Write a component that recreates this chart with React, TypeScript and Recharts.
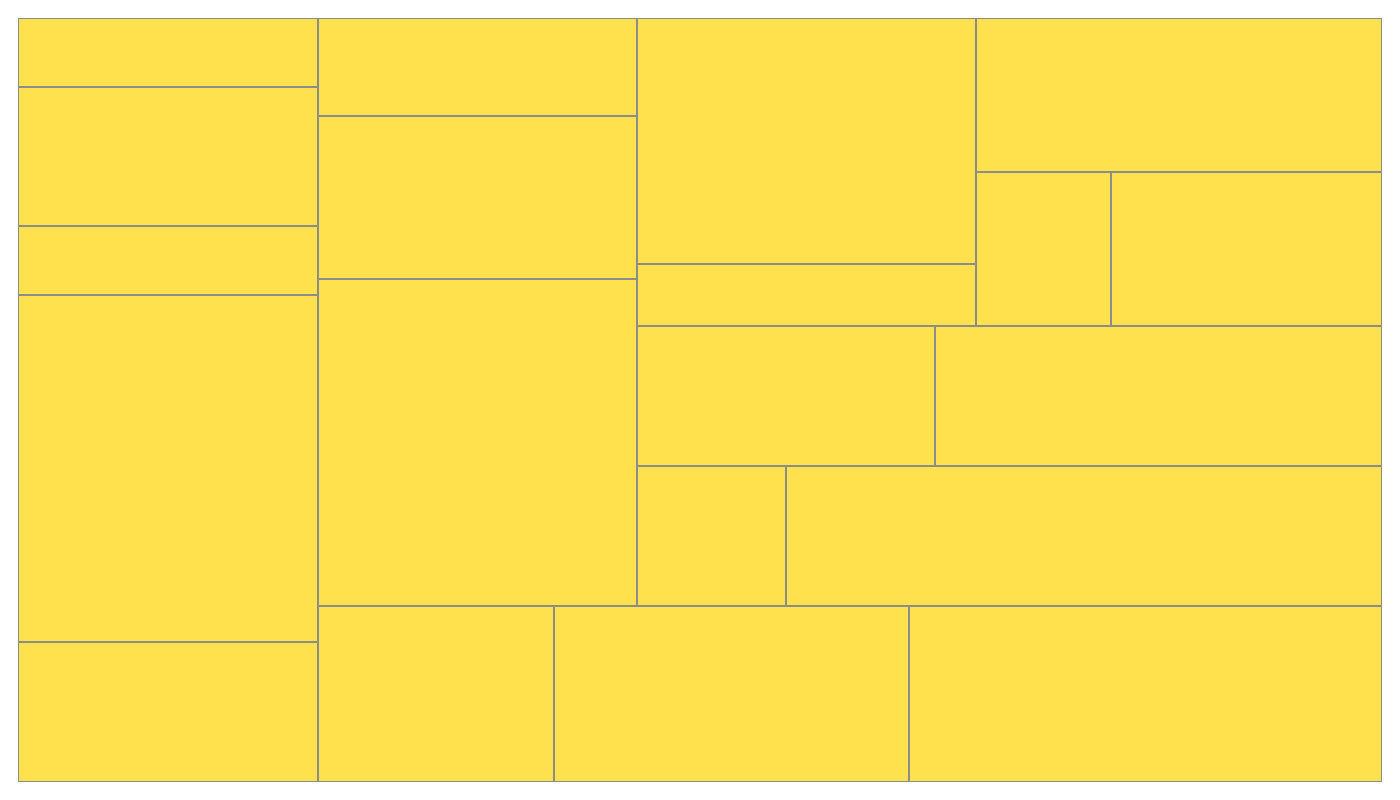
import React from "react";
import { Treemap } from "recharts";

// block values, read from the areas (whole chart = 100)
const leftColumn = [2, 4, 2, 10, 4];
const middleColumn = [3, 5, 10];
const upperPair = [8, 2];
const upperRightTop = 6;
const upperRightPair = [2, 4];
const middleRow = [4, 6];
const lowerRow = [2, 8];
const bottomRow = [4, 6, 8];

const leaves = (prefix: string, values: number[]) =>
  values.map((value, i) => ({ name: `${prefix}${i + 1}`, value }));

const data = [
  ...leaves("A", leftColumn),
  {
    name: "B",
    children: [
      ...leaves("B", middleColumn),
      {
        name: "C",
        children: [
          {
            name: "C-top",
            children: [
              ...leaves("C", upperPair),
              {
                name: "D",
                children: [
                  { name: "D1", value: upperRightTop },
                  { name: "E", children: leaves("E", upperRightPair) },
                ],
              },
            ],
          },
          { name: "F", children: leaves("F", middleRow) },
        ],
      },
      { name: "G", children: leaves("G", lowerRow) },
    ],
  },
  { name: "H", children: leaves("H", bottomRow) },
];

function Block(props: any) {
  const { x, y, width, height } = props;
  return (
    <rect
      x={x}
      y={y}
      width={width}
      height={height}
      fill="#FFE04D"
      stroke="#8C8C8C"
      strokeWidth={2}
    />
  );
}

export default function App() {
  return (
    <div style={{ padding: 10 }}>
      <Treemap
        width={1364}
        height={764}
        data={data}
        dataKey="value"
        aspectRatio={2.59}
        isAnimationActive={false}
        isUpdateAnimationActive={false}
        content={(props: any) => <Block {...props} />}
      />
    </div>
  );
}
